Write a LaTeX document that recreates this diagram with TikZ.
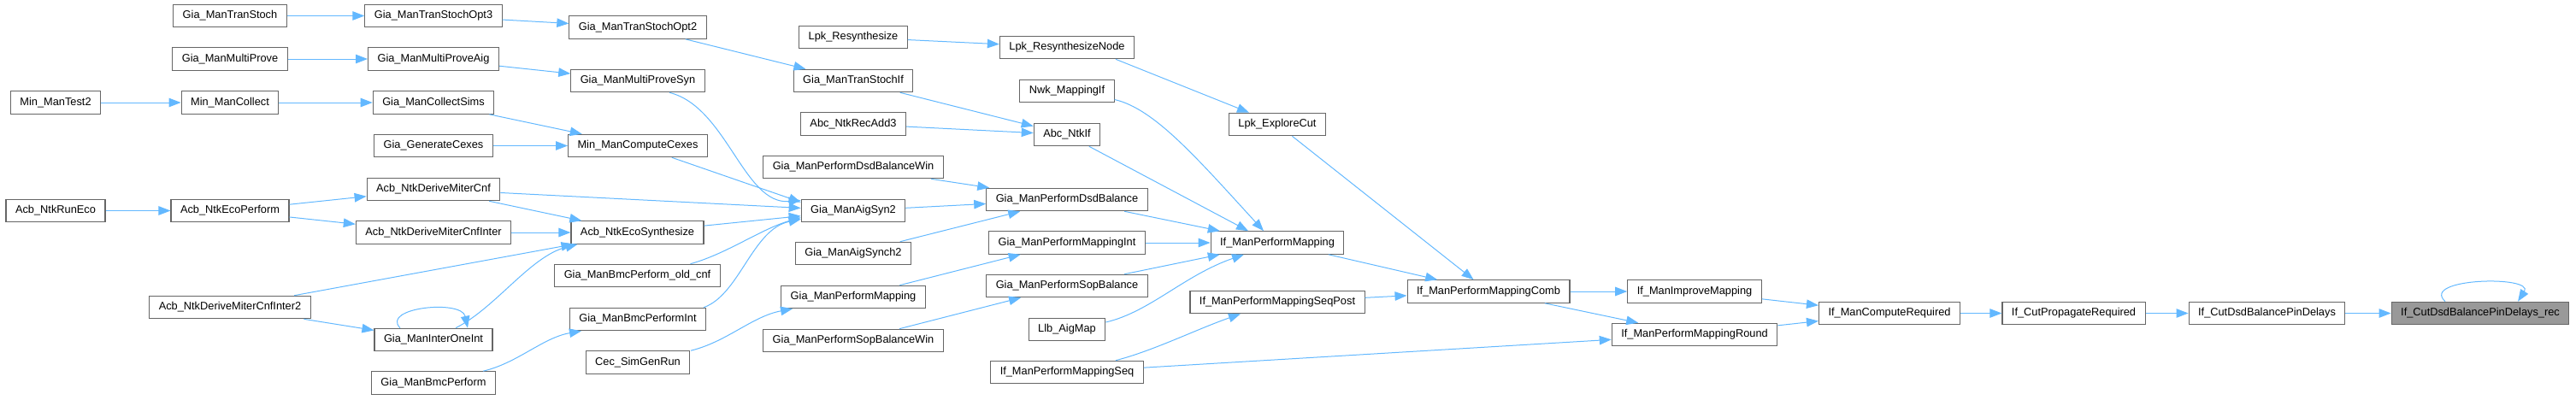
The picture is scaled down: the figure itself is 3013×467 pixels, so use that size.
\documentclass[tikz,border=0pt]{standalone}
\usepackage{fontspec}
\setmainfont{Liberation Sans}
\usetikzlibrary{arrows.meta}
\definecolor{edgeblue}{HTML}{63B8FF}
\definecolor{nodeborder}{HTML}{666666}
\definecolor{hlfill}{HTML}{999999}
\begin{document}
\begin{tikzpicture}[x=1pt,y=-1pt,
  fn/.style={draw=nodeborder, line width=1.1pt, fill=white, font=\fontsize{12.8}{15}\selectfont,
    inner xsep=11pt, inner ysep=0pt, minimum height=26.5pt, text height=9.3pt, text depth=2.6pt},
  hl/.style={fn, fill=hlfill},
  call/.style={draw=edgeblue, line width=1pt, -{Triangle[length=14pt,width=10.5pt]}},
]
\useasboundingbox (0,0) rectangle (3013,467);
% column 1
\node[fn] (minTest2) at (65,120) {Min\_ManTest2};
\node[fn] (runEco) at (65,246.5) {Acb\_NtkRunEco};
% column 2
\node[fn] (tranStoch) at (269,18.5) {Gia\_ManTranStoch};
\node[fn] (multiProve) at (269,69) {Gia\_ManMultiProve};
\node[fn] (minCollect) at (269,120) {Min\_ManCollect};
\node[fn] (ecoPerform) at (269,246.5) {Acb\_NtkEcoPerform};
\node[fn] (inter2) at (269,359.5) {Acb\_NtkDeriveMiterCnfInter2};
% column 3
\node[fn] (opt3) at (507,18.5) {Gia\_ManTranStochOpt3};
\node[fn] (proveAig) at (507,69) {Gia\_ManMultiProveAig};
\node[fn] (collectSims) at (507,120) {Gia\_ManCollectSims};
\node[fn] (genCexes) at (507,170.5) {Gia\_GenerateCexes};
\node[fn] (miterCnf) at (507,221.5) {Acb\_NtkDeriveMiterCnf};
\node[fn] (miterInter) at (507,272) {Acb\_NtkDeriveMiterCnfInter};
\node[fn] (interOne) at (507,397.5) {Gia\_ManInterOneInt};
\node[fn] (bmcPerform) at (507,448) {Gia\_ManBmcPerform};
% column 4
\node[fn] (opt2) at (746,32) {Gia\_ManTranStochOpt2};
\node[fn] (proveSyn) at (746,94.5) {Gia\_ManMultiProveSyn};
\node[fn] (computeCexes) at (746,170.5) {Min\_ManComputeCexes};
\node[fn] (ecoSynth) at (745.5,272) {Acb\_NtkEcoSynthesize};
\node[fn] (oldCnf) at (745.5,322.5) {Gia\_ManBmcPerform\_old\_cnf};
\node[fn] (bmcInt) at (746,373.5) {Gia\_ManBmcPerformInt};
\node[fn] (simGen) at (746,424) {Cec\_SimGenRun};
% column 5
\node[fn] (lpkResyn) at (998,43.5) {Lpk\_Resynthesize};
\node[fn] (tranIf) at (998,94.5) {Gia\_ManTranStochIf};
\node[fn] (recAdd3) at (998,145) {Abc\_NtkRecAdd3};
\node[fn] (dsdWin) at (998,195.5) {Gia\_ManPerformDsdBalanceWin};
\node[fn] (aigSyn2) at (998,246.5) {Gia\_ManAigSyn2};
\node[fn] (aigSynch2) at (998,296.5) {Gia\_ManAigSynch2};
\node[fn] (giaMapping) at (998,347.5) {Gia\_ManPerformMapping};
\node[fn] (sopWin) at (998,398.5) {Gia\_ManPerformSopBalanceWin};
% column 6
\node[fn] (resynNode) at (1248,55.5) {Lpk\_ResynthesizeNode};
\node[fn] (nwkIf) at (1248,106.5) {Nwk\_MappingIf};
\node[fn] (ntkIf) at (1248,157.5) {Abc\_NtkIf};
\node[fn] (dsd) at (1248,233.5) {Gia\_ManPerformDsdBalance};
\node[fn] (mapInt) at (1248,284) {Gia\_ManPerformMappingInt};
\node[fn] (sop) at (1248,334.5) {Gia\_ManPerformSopBalance};
\node[fn] (llb) at (1248,385.5) {Llb\_AigMap};
\node[fn] (seq) at (1248,435.5) {If\_ManPerformMappingSeq};
% column 7
\node[fn] (explore) at (1494,145.5) {Lpk\_ExploreCut};
\node[fn] (ifMap) at (1494,284) {If\_ManPerformMapping};
\node[fn] (seqPost) at (1494,353.5) {If\_ManPerformMappingSeqPost};
% right part
\node[fn] (comb) at (1741,341) {If\_ManPerformMappingComb};
\node[fn] (improve) at (1982,341) {If\_ManImproveMapping};
\node[fn] (round) at (1982,391.5) {If\_ManPerformMappingRound};
\node[fn] (compReq) at (2210,366.5) {If\_ManComputeRequired};
\node[fn] (propReq) at (2425.5,366.5) {If\_CutPropagateRequired};
\node[fn] (pinDelays) at (2651.5,366.5) {If\_CutDsdBalancePinDelays};
\node[hl] (rec) at (2901,366.5) {If\_CutDsdBalancePinDelays\_rec};

% edges
\draw[call] (tranStoch) -- (opt3);
\draw[call] (opt3) -- (opt2);
\draw[call] (opt2) -- (tranIf);
\draw[call] (multiProve) -- (proveAig);
\draw[call] (proveAig) -- (proveSyn);
\draw[call] ([xshift=37pt]proveSyn.south) .. controls (850,125) and (870,240) .. ([yshift=12pt]aigSyn2.west);
\draw[call] (minTest2) -- (minCollect);
\draw[call] (minCollect) -- (collectSims);
\draw[call] (collectSims) -- (computeCexes);
\draw[call] (genCexes) -- (computeCexes);
\draw[call] (computeCexes) -- ([yshift=10pt]aigSyn2.west);
\draw[call] (runEco) -- (ecoPerform);
\draw[call] (ecoPerform) -- (miterCnf);
\draw[call] (ecoPerform) -- (miterInter);
\draw[call] (miterCnf) -- (aigSyn2);
\draw[call] (miterCnf) -- (ecoSynth);
\draw[call] (miterInter) -- (ecoSynth);
\draw[call] (inter2) -- (ecoSynth);
\draw[call] (inter2) -- (interOne);
\draw[call] ([xshift=-39pt]interOne.north) .. controls (445,360) and (540,350) .. ([xshift=40pt]interOne.north);
\draw[call] ([xshift=26pt]interOne.north) .. controls (580,360) and (620,300) .. ([xshift=-70pt]ecoSynth.south);
\draw[call] (ecoSynth) -- (aigSyn2);
\draw[call] ([xshift=62pt]oldCnf.north) .. controls (850,297) and (890,268) .. ([yshift=-8pt]aigSyn2.west);
\draw[call] ([xshift=77pt]bmcInt.north) .. controls (865,345) and (880,268) .. ([yshift=-10pt]aigSyn2.west);
\draw[call] ([xshift=58pt]bmcPerform.north) .. controls (605,425) and (635,395) .. ([xshift=-66pt]bmcInt.south);
\draw[call] ([xshift=62pt]simGen.north) .. controls (850,400) and (880,370) .. ([xshift=-71pt]giaMapping.south);
\draw[call] (lpkResyn) -- (resynNode);
\draw[call] ([xshift=57pt]resynNode.south) -- ([xshift=-33pt]explore.north);
\draw[call] (tranIf) -- (ntkIf);
\draw[call] (recAdd3) -- (ntkIf);
\draw[call] ([yshift=-10pt]nwkIf.east) .. controls (1350,127) and (1400,185) .. ([xshift=-16pt]ifMap.north);
\draw[call] (ntkIf) -- ([xshift=-34pt]ifMap.north);
\draw[call] (explore) -- (comb);
\draw[call] (dsdWin) -- (dsd);
\draw[call] (aigSyn2) -- (dsd);
\draw[call] (aigSynch2) -- (dsd);
\draw[call] (dsd) -- (ifMap);
\draw[call] (mapInt) -- (ifMap);
\draw[call] (giaMapping) -- (mapInt);
\draw[call] (sop) -- (ifMap);
\draw[call] (sopWin) -- (sop);
\draw[call] ([yshift=8.5pt]llb.east) .. controls (1345,365) and (1385,322) .. ([xshift=-39pt]ifMap.south);
\draw[call] ([xshift=57pt]seq.north) .. controls (1350,410) and (1400,385) .. ([xshift=-43pt]seqPost.south);
\draw[call] (seq) -- (round);
\draw[call] (ifMap) -- (comb);
\draw[call] (seqPost) -- (comb);
\draw[call] (comb) -- (improve);
\draw[call] (comb) -- (round);
\draw[call] (improve) -- (compReq);
\draw[call] (round) -- (compReq);
\draw[call] (compReq) -- (propReq);
\draw[call] (propReq) -- (pinDelays);
\draw[call] (pinDelays) -- (rec);
\draw[call] ([xshift=-41pt]rec.north) .. controls (2830,325) and (2965,322) .. ([xshift=44pt]rec.north);
\end{tikzpicture}
\end{document}
